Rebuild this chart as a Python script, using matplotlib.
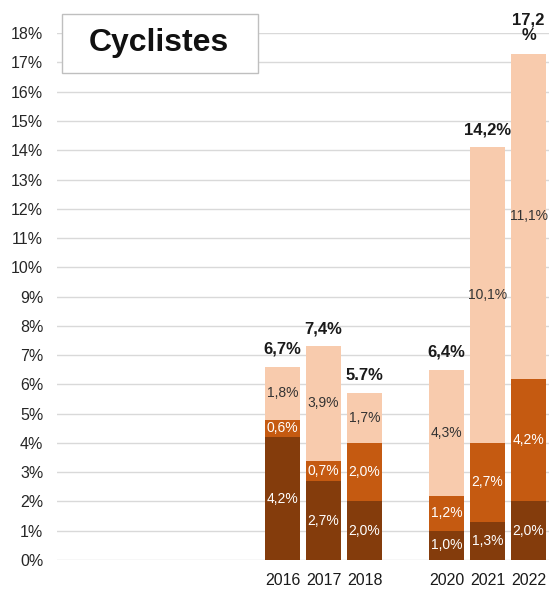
import matplotlib
matplotlib.use("Agg")
import matplotlib.pyplot as plt
from matplotlib.patches import Rectangle
import numpy as np

plt.rcParams['font.family'] = ['Liberation Sans', 'DejaVu Sans']

years = ["2011", "2012", "2013", "2014", "2015", "2016", "2017", "2018", "2019", "2020", "2021", "2022"]
shown = [False, False, False, False, False, True, True, True, False, True, True, True]
dark = [np.nan] * 5 + [4.2, 2.7, 2.0, np.nan, 1.0, 1.3, 2.0]
mid = [np.nan] * 5 + [0.6, 0.7, 2.0, np.nan, 1.2, 2.7, 4.2]
light = [np.nan] * 5 + [1.8, 3.9, 1.7, np.nan, 4.3, 10.1, 11.1]
totals = [None] * 5 + ["6,7%", "7,4%", "5.7%", None, "6,4%", "14,2%", "17,2\n%"]
dark_lbl = [None] * 5 + ["4,2%", "2,7%", "2,0%", None, "1,0%", "1,3%", "2,0%"]
mid_lbl = [None] * 5 + ["0,6%", "0,7%", "2,0%", None, "1,2%", "2,7%", "4,2%"]
light_lbl = [None] * 5 + ["1,8%", "3,9%", "1,7%", None, "4,3%", "10,1%", "11,1%"]
yticks = list(range(0, 19))

c_dark = "#843C0C"
c_mid = "#C55A11"
c_light = "#F8CBAD"

fig = plt.figure(figsize=(5.49, 5.90), dpi=100)
ax = fig.add_axes([0.104, 0.0508, 0.896, 0.893])

x = np.arange(len(years))
d = np.array(dark, dtype=float)
m = np.array(mid, dtype=float)
l = np.array(light, dtype=float)
w = 0.85
ax.bar(x, d, w, color=c_dark, zorder=3)
ax.bar(x, m, w, bottom=d, color=c_mid, zorder=3)
ax.bar(x, l, w, bottom=d + m, color=c_light, zorder=3)

fs = 10
for i in range(len(years)):
    if not shown[i]:
        continue
    ax.text(x[i], d[i] / 2, dark_lbl[i], ha='center', va='center', color='white', fontsize=fs, zorder=4)
    ax.text(x[i], d[i] + m[i] / 2, mid_lbl[i], ha='center', va='center', color='white', fontsize=fs, zorder=4)
    ax.text(x[i], d[i] + m[i] + l[i] / 2, light_lbl[i], ha='center', va='center', color='#333333', fontsize=fs, zorder=4)
    top = d[i] + m[i] + l[i]
    ax.text(x[i], top + 0.35, totals[i], ha='center', va='bottom', color='#1a1a1a', fontsize=12,
            fontweight='bold', linespacing=1.05, zorder=4, clip_on=False)

ax.set_xlim(-0.5, len(years) - 0.5)
ax.set_ylim(0, 18)
ax.set_yticks(yticks)
ax.set_yticklabels([f"{v}%" for v in yticks], fontsize=11.5, color='#262626')
ax.set_xticks(x)
ax.set_xticklabels([y if s else "" for y, s in zip(years, shown)], fontsize=11.5, color='#1a1a1a')
ax.tick_params(axis='both', length=0)
ax.tick_params(axis='y', pad=10)
ax.tick_params(axis='x', pad=9)
ax.grid(axis='y', color='#D9D9D9', linewidth=1.0, zorder=0)
for s in ax.spines.values():
    s.set_visible(False)

fig.patches.append(Rectangle((62 / 549, 1 - 73 / 590), 196 / 549, 59 / 590, transform=fig.transFigure,
                             facecolor='white', edgecolor='#BFBFBF', linewidth=1.0, zorder=10))
fig.text(159 / 549, 1 - 43 / 590, "Cyclistes", ha='center', va='center', fontsize=23, fontweight='bold',
         color='#111111', zorder=11)

fig.savefig("out.png", dpi=100)
